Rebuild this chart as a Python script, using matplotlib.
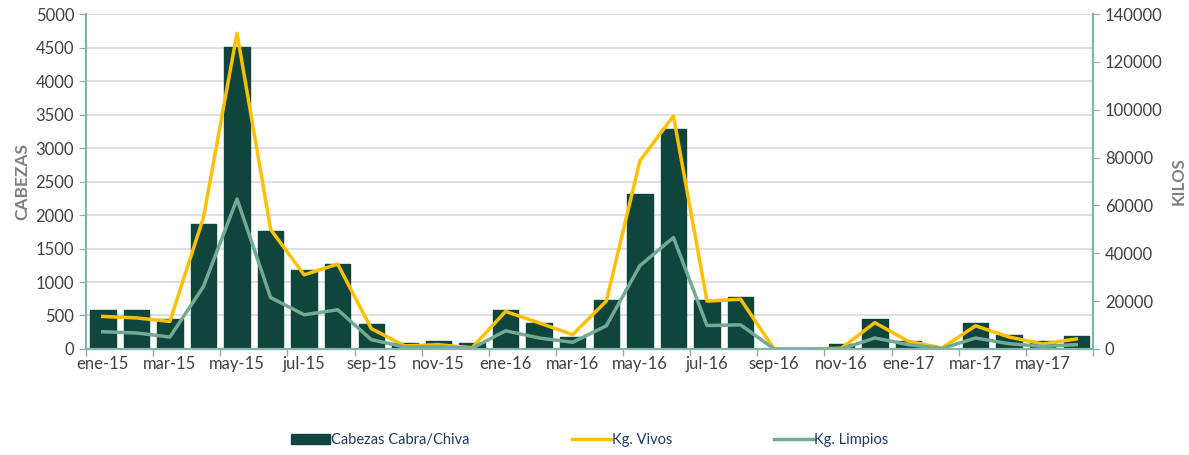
import numpy as np
import matplotlib
matplotlib.use('Agg')
import matplotlib.pyplot as plt

plt.rcParams['font.family'] = ['Lato', 'DejaVu Sans']

# Datos mensuales ene-15 a jun-17
meses = ['ene-15', 'feb-15', 'mar-15', 'abr-15', 'may-15', 'jun-15', 'jul-15', 'ago-15',
         'sep-15', 'oct-15', 'nov-15', 'dic-15', 'ene-16', 'feb-16', 'mar-16', 'abr-16',
         'may-16', 'jun-16', 'jul-16', 'ago-16', 'sep-16', 'oct-16', 'nov-16', 'dic-16',
         'ene-17', 'feb-17', 'mar-17', 'abr-17', 'may-17', 'jun-17']
cabezas = [575, 585, 445, 1870, 4510, 1760, 1180, 1265, 375, 95, 115, 85,
           585, 385, 185, 735, 2310, 3280, 735, 775, 0, 0, 75, 445,
           125, 0, 395, 215, 115, 195]
kg_vivos = [13600, 13000, 11500, 55000, 132000, 50000, 31000, 35500, 8500, 1300, 1800, 500,
            15700, 10900, 6000, 20000, 78600, 97400, 20000, 20800, 0, 0, 300, 11000,
            3200, 400, 9700, 5000, 2100, 4200]
kg_limpios = [7200, 6700, 5000, 26100, 62700, 21500, 14300, 16400, 3900, 800, 900, 300,
              7600, 4600, 2800, 9700, 34800, 46600, 9800, 10100, 0, 0, 0, 4600,
              1800, 200, 4600, 2200, 1100, 1800]

color_barra = '#10453d'
color_vivos = '#ffc000'
color_limpios = '#72ab94'
color_eje = '#86b3a8'
color_texto = '#404040'

fig = plt.figure(figsize=(11.89, 4.55), dpi=100)
ax = fig.add_axes([0.0723, 0.233, 0.8470, 0.736])
ax2 = ax.twinx()

x = np.arange(len(meses))
barras = ax.bar(x, cabezas, 0.76, color=color_barra, edgecolor=color_barra,
                linewidth=1, joinstyle='round', label='Cabezas Cabra/Chiva', zorder=2)
linea1, = ax2.plot(x, kg_vivos, color=color_vivos, linewidth=2.5, label='Kg. Vivos')
linea2, = ax2.plot(x, kg_limpios, color=color_limpios, linewidth=2.5, label='Kg. Limpios')

ax.set_xlim(-0.5, len(meses) - 0.5)
ax.set_ylim(0, 5000)
ax2.set_ylim(0, 140000)
ax.set_yticks(np.arange(0, 5001, 500))
ax2.set_yticks(np.arange(0, 140001, 20000))
ax.set_xticks(x[::2])
ax.set_xticklabels(meses[::2])
ax.set_xticks(np.arange(-0.5, len(meses), 2), minor=True)
ax.tick_params(axis='x', which='major', length=0, pad=5, labelsize=12, colors=color_texto)
ax.tick_params(axis='x', which='minor', length=5, color=color_eje, width=1)
ax.tick_params(axis='y', length=5, color=color_eje, labelsize=12, labelcolor=color_texto)
ax2.tick_params(axis='y', length=5, color=color_eje, labelsize=12, labelcolor=color_texto)

ax.yaxis.grid(True, color='#d9d9d9', linewidth=1.2, zorder=0)
ax.set_axisbelow(True)

for a in (ax, ax2):
    a.spines['top'].set_visible(False)
    for s in ('left', 'right', 'bottom'):
        a.spines[s].set_color(color_eje)
        a.spines[s].set_linewidth(1.5)

ax.set_ylabel('CABEZAS', fontsize=12.5, fontweight='bold', color='#7f7f7f', labelpad=4)
ax2.set_ylabel('KILOS', fontsize=12, fontweight='bold', color='#7f7f7f', labelpad=6)

leg = fig.legend([barras, linea1, linea2], ['Cabezas Cabra/Chiva', 'Kg. Vivos', 'Kg. Limpios'],
                 loc='center', bbox_to_anchor=(0.496, 0.033), ncol=3, frameon=False,
                 fontsize=10.5, columnspacing=7.0, handlelength=2.7, handletextpad=0.05)
for t in leg.get_texts():
    t.set_color('#1f3864')

fig.savefig('out.png', dpi=100)
